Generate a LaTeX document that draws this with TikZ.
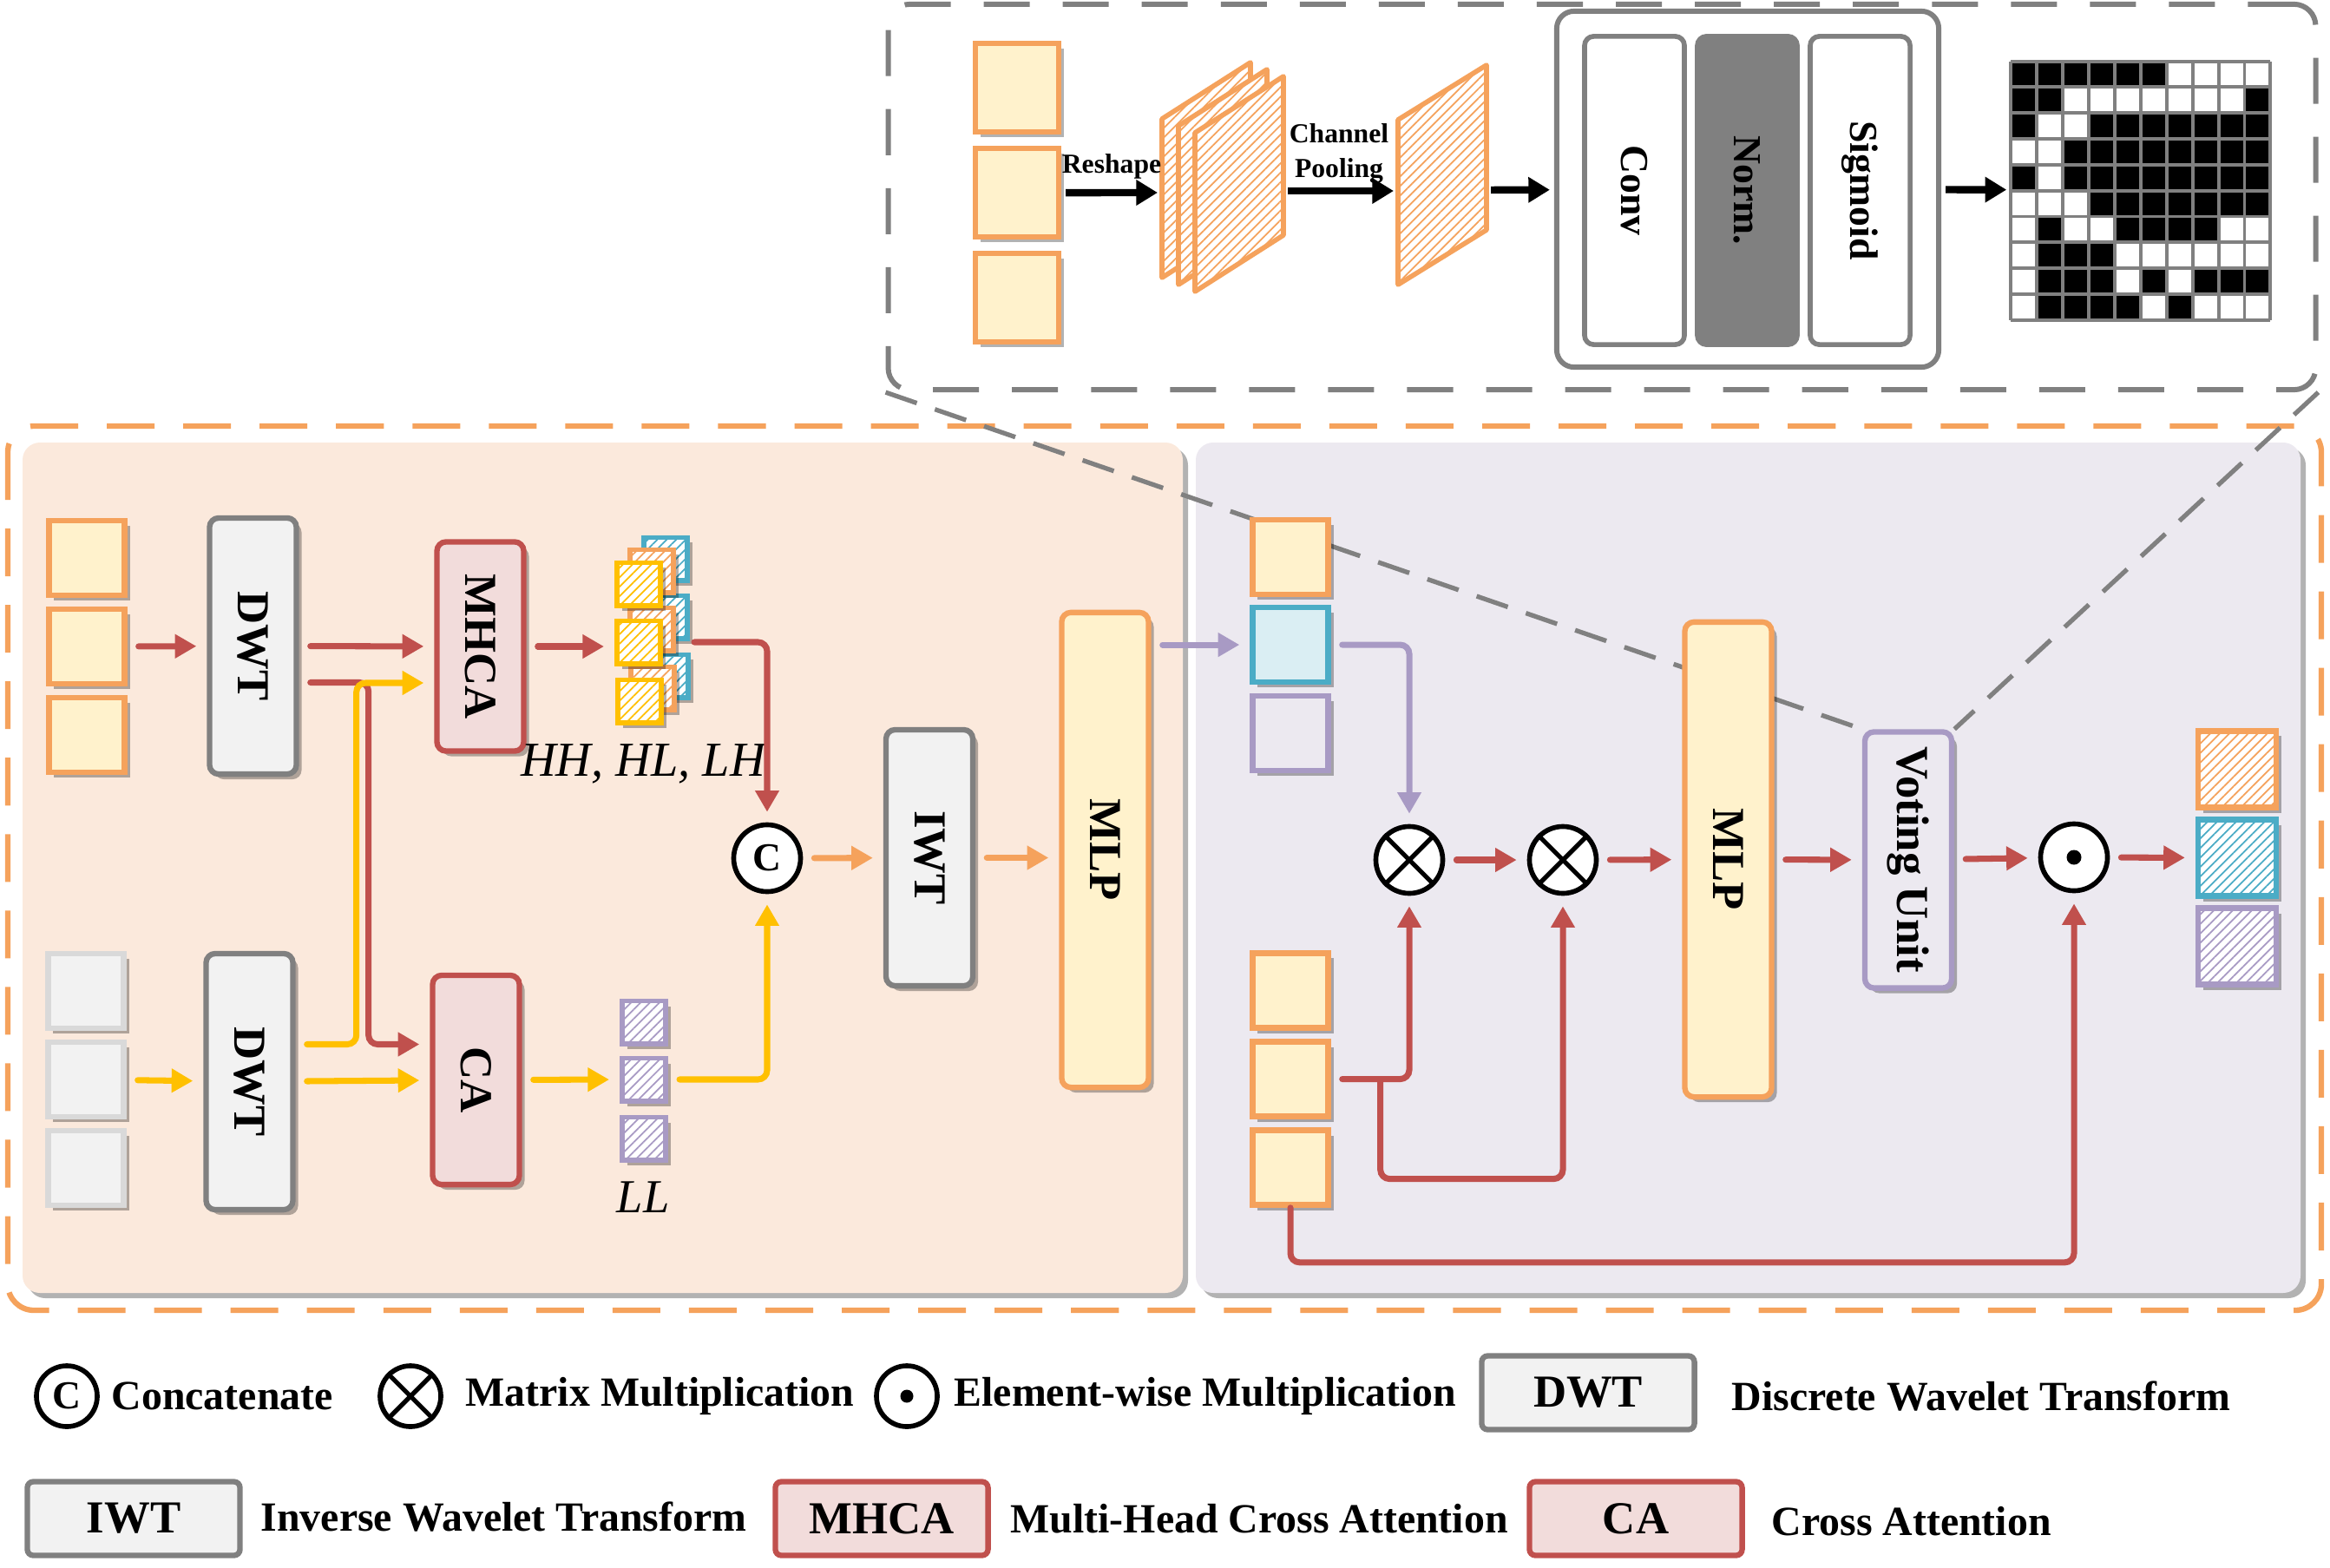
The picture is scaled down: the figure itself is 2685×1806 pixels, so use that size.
\documentclass[tikz,border=0pt]{standalone}
\usepackage{fontspec}
\setmainfont{Liberation Serif}
\usepackage{graphicx}
\usetikzlibrary{arrows.meta,calc,positioning,shadows,patterns.meta}

\pgfdeclarelayer{bg}
\pgfdeclarelayer{mid}
\pgfsetlayers{bg,mid,main}

\definecolor{oline}{RGB}{245,162,92}
\definecolor{ofill}{RGB}{255,242,204}
\definecolor{rline}{RGB}{192,80,77}
\definecolor{rfill}{RGB}{242,220,219}
\definecolor{gline}{RGB}{128,128,128}
\definecolor{gfill}{RGB}{242,242,242}
\definecolor{lgline}{RGB}{217,217,217}
\definecolor{yline}{RGB}{255,192,0}
\definecolor{bline}{RGB}{75,172,198}
\definecolor{bfill}{RGB}{218,238,243}
\definecolor{pline}{RGB}{168,154,196}
\definecolor{peach}{RGB}{251,233,220}
\definecolor{lilac}{RGB}{236,233,240}

\newcommand\boxfont{\fontsize{15}{18}\selectfont\bfseries}
\newcommand\opsfont{\fontsize{13}{16}\selectfont\bfseries}
\newcommand\legfont{\fontsize{13.6}{16}\selectfont\bfseries}

\tikzset{
  softshadow/.style={drop shadow={shadow xshift=0.06cm,shadow yshift=-0.06cm,opacity=0.3,fill=black}},
  hatched/.style={preaction={fill=white},pattern={Lines[angle=45,distance=2.2pt,line width=0.5pt]},pattern color=#1,draw=#1},
  featsq/.style={rectangle,draw=oline,fill=ofill,line width=1.8pt,minimum width=0.87cm,minimum height=0.86cm,inner sep=0pt,softshadow},
  graysq/.style={featsq,draw=lgline,fill=gfill},
  mapsq/.style={rectangle,line width=1.7pt,minimum width=0.5cm,minimum height=0.49cm,inner sep=0pt,softshadow,hatched=#1},
  outsq/.style={rectangle,line width=1.8pt,minimum width=0.9cm,minimum height=0.88cm,inner sep=0pt,softshadow,hatched=#1},
  wavebox/.style={rectangle,rounded corners=3pt,draw=gline,fill=gfill,line width=1.8pt,minimum width=1cm,minimum height=2.95cm,inner sep=0pt,softshadow,font=\boxfont},
  attnbox/.style={wavebox,draw=rline,fill=rfill,minimum height=2.41cm},
  mlpbox/.style={wavebox,draw=oline,fill=ofill,minimum height=5.47cm},
  votebox/.style={wavebox,draw=pline,fill=lilac},
  opstrip/.style={rectangle,rounded corners=3pt,draw=gline,fill=white,line width=1.6pt,minimum width=1.15cm,minimum height=3.55cm,inner sep=0pt,font=\opsfont},
  legbox/.style={rectangle,rounded corners=2pt,line width=1.8pt,minimum width=2.45cm,minimum height=0.85cm,inner sep=0pt,font=\boxfont},
  legtext/.style={anchor=west,inner sep=0pt,font=\legfont},
  opcirc/.style={circle,draw=black,fill=white,line width=1.6pt,minimum size=0.77cm,inner sep=0pt,font=\fontsize{13}{13}\selectfont\bfseries},
  rarr/.style={draw=rline,line width=2pt,line cap=round,-{Triangle[length=7pt,width=7.5pt]},rounded corners=3pt,shorten <=0.13cm,shorten >=0.12cm},
  yarr/.style={rarr,draw=yline},
  oarr/.style={rarr,draw=oline},
  parr/.style={rarr,draw=pline},
  karr/.style={draw=black,line width=2.4pt,-{Triangle[length=7pt,width=8pt]},shorten <=0.05cm,shorten >=0.05cm},
  slab/.style={hatched=oline,line width=1.6pt,line join=round},
  zoomdash/.style={draw=gline,line width=1.5pt,dash pattern=on 0.38cm off 0.22cm}
}

\begin{document}
\begin{tikzpicture}[x=0.01cm,y=-0.01cm]
\useasboundingbox (0,0) rectangle (2685,1806);

% panels
\begin{pgfonlayer}{bg}
\fill[peach,rounded corners=0.2cm,softshadow] (26,510) rectangle (1363,1490);
\fill[lilac,rounded corners=0.2cm,softshadow] (1378,510) rectangle (2651,1490);
\draw[oline,line width=1.8pt,dash pattern=on 0.55cm off 0.33cm,rounded corners=0.3cm] (9,491) rectangle (2675,1510);
\end{pgfonlayer}

% zoom of the voting unit
\node[draw=gline,line width=1.7pt,dash pattern=on 0.53cm off 0.38cm,rounded corners=0.25cm,minimum width=16.44cm,minimum height=4.44cm] (zoombox) at (1846,227) {};

\node[featsq,minimum width=0.96cm,minimum height=1.02cm] (inA) at (1172,101) {};
\node[featsq,minimum width=0.96cm,minimum height=1.02cm] (inB) [below of=inA,node distance=1.21cm] {};
\node[featsq,minimum width=0.96cm,minimum height=1.02cm] (inC) [below of=inB,node distance=1.21cm] {};

\draw[slab] (1339,320) -- ++(0,-183) -- ++(102,-65) -- ++(0,183) -- cycle;
\draw[slab] (1358,328) -- ++(0,-183) -- ++(102,-65) -- ++(0,183) -- cycle;
\draw[slab] (1377,336) -- ++(0,-183) -- ++(102,-65) -- ++(0,183) -- cycle;
\coordinate (stkin) at (1339,222);
\coordinate (stkout) at (1479,220);

\draw[slab] (1611,328) -- ++(0,-190) -- ++(102,-63) -- ++(0,190) -- cycle;
\coordinate (poolin) at (1611,220);
\coordinate (poolout) at (1713,219);

\node[font=\fontsize{9}{10}\selectfont\bfseries] (reshape) at (1281,192) {Reshape};
\node[font=\fontsize{9}{11.5}\selectfont\bfseries,align=center] (chpool) at (1543,177) {Channel\\Pooling};

\node[draw=gline,line width=1.7pt,rounded corners=0.2cm,fill=white,minimum width=4.4cm,minimum height=4.1cm] (opsbox) at (2014,218) {};
\node[opstrip] (conv) at (1883.5,219.5) {\rotatebox{-90}{Conv}};
\node[opstrip,fill=gline] (norm) at (2013.5,219.5) {\rotatebox{-90}{Norm.}};
\node[opstrip] (sigm) at (2143.5,219.5) {\rotatebox{-90}{Sigmoid}};

\node[inner sep=0pt,minimum width=2.99cm,minimum height=2.98cm,fill=white] (vmap) at (2467.5,219) {};
\begin{scope}[shift={(vmap.south west)},x=0.299cm,y=0.298cm]
\fill[black] (0,9) rectangle (6,10);
\fill[black] (0,8) rectangle (2,9);
\fill[black] (9,8) rectangle (10,9);
\fill[black] (0,7) rectangle (1,8);
\fill[black] (3,7) rectangle (10,8);
\fill[black] (2,6) rectangle (10,7);
\fill[black] (0,5) rectangle (1,6);
\fill[black] (2,5) rectangle (10,6);
\fill[black] (3,4) rectangle (10,5);
\fill[black] (1,3) rectangle (2,4);
\fill[black] (4,3) rectangle (8,4);
\fill[black] (1,2) rectangle (4,3);
\fill[black] (1,1) rectangle (4,2);
\fill[black] (5,1) rectangle (6,2);
\fill[black] (7,1) rectangle (10,2);
\fill[black] (1,0) rectangle (5,1);
\fill[black] (6,0) rectangle (7,1);
\draw[gline,line width=1.1pt] (0,0) grid[step=1] (10,10);
\end{scope}

\draw[karr] (inB) -- (stkin);
\draw[karr] (stkout) -- (poolin);
\draw[karr] (poolout) -- (opsbox);
\draw[karr] (opsbox) -- (vmap);

% frequency branch
\node[featsq] (xa1) at (100,643) {};
\node[featsq] (xa2) [below of=xa1,node distance=1.02cm] {};
\node[featsq] (xa3) [below of=xa2,node distance=1.02cm] {};
\node[graysq] (ya1) at (99,1142) {};
\node[graysq] (ya2) [below of=ya1,node distance=1.02cm] {};
\node[graysq] (ya3) [below of=ya2,node distance=1.02cm] {};

\node[wavebox] (dwtA) at (291.5,744.5) {\rotatebox{-90}{DWT}};
\node[wavebox] (dwtB) at (287.5,1246.5) {\rotatebox{-90}{DWT}};
\node[attnbox] (mhca) at (553.5,745) {\rotatebox{-90}{MHCA}};
\node[attnbox] (ca) at (548.5,1244.5) {\rotatebox{-90}{CA}};

\node[mapsq=bline] (hbA) at (767,644) {};
\node[mapsq=bline] (hbB) at (767,711) {};
\node[mapsq=bline] (hbC) at (768,779) {};
\node[mapsq=oline] (hoA) at (751,658) {};
\node[mapsq=oline] (hoB) at (751,725) {};
\node[mapsq=oline] (hoC) at (752,793) {};
\node[mapsq=yline] (hfA) at (736,673) {};
\node[mapsq=yline] (hfB) at (736,740) {};
\node[mapsq=yline] (hfC) at (737,808) {};
\node[font=\fontsize{16}{18}\selectfont\itshape] (hlab) at (741,880) {HH, HL, LH};

\node[mapsq=pline] (ll1) at (742,1178) {};
\node[mapsq=pline] (ll2) at (742,1244) {};
\node[mapsq=pline] (ll3) at (742,1312) {};
\node[font=\fontsize{15.5}{18}\selectfont\itshape] (llab) at (741,1380) {LL};

\node[opcirc] (cat) at (884,989) {C};
\node[wavebox] (iwt) at (1071,988.5) {\rotatebox{-90}{IWT}};
\node[mlpbox] (mlpA) at (1273.5,979.5) {\rotatebox{-90}{MLP}};

\draw[rarr] (xa2) -- (dwtA);
\draw[rarr] (dwtA) -- (mhca);
\draw[rarr] ($(dwtA.east)+(0,42)$) -- ++(80,0) |- ($(ca.west)+(0,-41)$);
\draw[yarr] (ya2) -- (dwtB);
\draw[yarr] (dwtB) -- (ca);
\draw[yarr] ($(dwtB.east)+(0,-43)$) -- ++(70,0) |- ($(mhca.west)+(0,42)$);
\draw[rarr] (mhca.east) -- (mhca.east -| hfB.west);
\draw[yarr] (ca) -- (ll2);
\draw[rarr,shorten <=0.05cm] (hbB.east |- hfB) -| (cat);
\draw[yarr] (ll2) -| (cat);
\draw[oarr] (cat) -- (iwt);
\draw[oarr] (iwt.east) -- (iwt.east -| mlpA.west);

% voting branch
\node[featsq] (qa) at (1487,642) {};
\node[featsq,draw=bline,fill=bfill] (qb) [below of=qa,node distance=1.01cm] {};
\node[featsq,draw=pline,fill=lilac] (qc) [below of=qb,node distance=1.02cm] {};
\node[featsq] (ka) at (1487,1141.5) {};
\node[featsq] (kb) [below of=ka,node distance=1.02cm] {};
\node[featsq] (kc) [below of=kb,node distance=1.02cm] {};

\node[opcirc] (mulA) at (1624,991) {};
\node[opcirc] (mulB) at (1801,991) {};
\draw[line width=1.5pt] (mulA.north west) -- (mulA.south east) (mulA.north east) -- (mulA.south west);
\draw[line width=1.5pt] (mulB.north west) -- (mulB.south east) (mulB.north east) -- (mulB.south west);
\node[mlpbox] (mlpB) at (1991.5,990.5) {\rotatebox{-90}{MLP}};
\node[votebox] (vote) at (2199,991) {\rotatebox{-90}{Voting Unit}};
\node[opcirc] (had) at (2390,988) {};
\fill (had) circle (0.085cm);
\node[outsq=oline] (oa) at (2578,886.5) {};
\node[outsq=bline] (ob) [below of=oa,node distance=1.02cm] {};
\node[outsq=pline] (oc) [below of=ob,node distance=1.02cm] {};

\draw[parr] (mlpA.east |- qb) -- (qb);
\draw[parr] (qb) -| (mulA);
\draw[rarr] (mulA) -- (mulB);
\draw[rarr] (mulB) -- (mlpB);
\draw[rarr] (mlpB) -- (vote);
\draw[rarr] (vote) -- (had);
\draw[rarr] (had) -- (ob);
\draw[rarr] (kb) -| (mulA);
\draw[rarr,shorten <=0pt] ($(kb.east)+(57,0)$) -- ++(0,115) -| (mulB);
\draw[rarr,shorten <=0pt] (kc.south) -- ++(0,63) -| (had);

\begin{pgfonlayer}{mid}
\draw[zoomdash] (zoombox.south west) -- (vote.north west);
\draw[zoomdash] (zoombox.south east) -- (vote.north east);
\end{pgfonlayer}

% legend
\node[opcirc,minimum size=0.7cm] (lcat) at (77,1609) {C};
\node[legtext] (tcat) at (128,1609) {Concatenate};
\node[opcirc,minimum size=0.7cm] (lmul) at (473,1609) {};
\draw[line width=1.5pt] (lmul.north west) -- (lmul.south east) (lmul.north east) -- (lmul.south west);
\node[legtext] (tmul) at (536,1609) {Matrix Multiplication};
\node[opcirc,minimum size=0.7cm] (lhad) at (1045,1609) {};
\fill (lhad) circle (0.075cm);
\node[legtext] (thad) at (1099,1609) {Element-wise Multiplication};
\node[legbox,draw=gline,fill=gfill] (ldwt) at (1830,1605) {DWT};
\node[legtext] (tdwt) at (1995,1609) {Discrete Wavelet Transform};

\node[legbox,draw=gline,fill=gfill] (liwt) at (154,1750) {IWT};
\node[legtext] (tiwt) at (300,1748) {Inverse Wavelet Transform};
\node[legbox,draw=rline,fill=rfill] (lmhca) at (1016,1750) {MHCA};
\node[legtext] (tmhca) at (1164,1750) {Multi-Head Cross Attention};
\node[legbox,draw=rline,fill=rfill] (lca) at (1885,1750) {CA};
\node[legtext] (tca) at (2041,1753) {Cross Attention};
\end{tikzpicture}
\end{document}
